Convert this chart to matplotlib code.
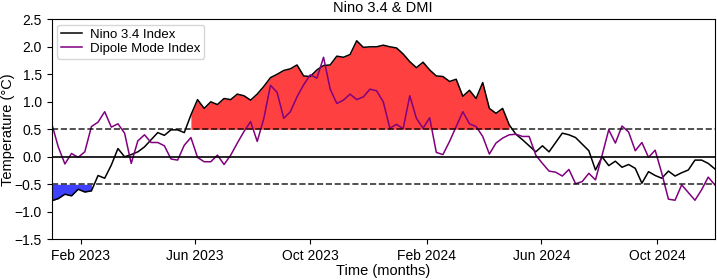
import pandas as pd
import numpy as np
import matplotlib
matplotlib.use('Agg')
import matplotlib.pyplot as plt
import matplotlib.dates as mdates

plt.rcParams['font.family'] = ['Liberation Sans', 'DejaVu Sans']

# Weekly series, Jan 2023 - Dec 2024
dates = pd.date_range('2023-01-01', periods=101, freq='7D')

nino34 = [-0.80, -0.76, -0.68, -0.71, -0.59, -0.64, -0.62, -0.34, -0.39, -0.15,
          0.15, 0.00, 0.04, 0.09, 0.18, 0.31, 0.44, 0.39, 0.49, 0.49,
          0.44, 0.76, 1.04, 0.88, 1.00, 0.95, 1.06, 1.04, 1.14, 1.11,
          1.03, 1.14, 1.28, 1.44, 1.50, 1.57, 1.60, 1.67, 1.47, 1.46,
          1.58, 1.66, 1.67, 1.83, 1.81, 1.86, 2.11, 1.99, 2.00, 2.00,
          2.03, 2.00, 1.98, 1.87, 1.73, 1.62, 1.72, 1.58, 1.47, 1.46,
          1.37, 1.41, 1.10, 1.21, 1.06, 1.35, 0.88, 0.79, 0.88, 0.58,
          0.41, 0.31, 0.20, 0.09, 0.20, 0.09, 0.26, 0.43, 0.40, 0.35,
          0.23, 0.11, -0.24, 0.00, -0.16, -0.08, -0.19, -0.14, -0.21, -0.48,
          -0.27, -0.34, -0.39, -0.26, -0.35, -0.29, -0.24, -0.06, -0.06, -0.12,
          -0.22]

dmi = [0.61, 0.18, -0.13, 0.06, -0.01, 0.09, 0.55, 0.63, 0.82, 0.54,
       0.60, 0.43, -0.12, 0.29, 0.40, 0.26, 0.26, 0.20, -0.04, -0.06,
       0.21, 0.35, -0.01, -0.09, -0.09, 0.03, -0.14, 0.03, 0.25, 0.46,
       0.64, 0.28, 0.70, 1.30, 1.17, 0.70, 0.82, 1.09, 1.31, 1.49,
       1.43, 1.81, 1.23, 0.97, 1.03, 1.14, 1.04, 1.09, 1.23, 1.20,
       1.00, 0.52, 0.59, 0.51, 1.11, 0.70, 0.52, 0.71, 0.08, 0.04,
       0.28, 0.55, 0.82, 0.60, 0.55, 0.37, 0.05, 0.25, 0.34, 0.40,
       0.41, 0.37, 0.37, 0.03, -0.12, -0.26, -0.28, -0.35, -0.23, -0.49,
       -0.45, -0.30, -0.42, 0.03, 0.49, 0.25, 0.56, 0.45, 0.11, 0.26,
       -0.01, 0.12, -0.30, -0.77, -0.79, -0.51, -0.65, -0.79, -0.60, -0.37,
       -0.51]

nino34 = np.array(nino34)
dmi = np.array(dmi)

fig = plt.figure(figsize=(7.17, 2.8), dpi=100)
ax = fig.add_axes([0.072, 0.1454, 0.925, 0.7856])

ax.plot(dates, nino34, color='black', lw=1.1, label='Nino 3.4 Index')
ax.plot(dates, dmi, color='purple', lw=1.1, label='Dipole Mode Index')

ax.fill_between(dates, 0.5, nino34, where=nino34 >= 0.5, color='red', alpha=0.75, lw=0)
ax.fill_between(dates, -0.5, nino34, where=nino34 <= -0.5, color='blue', alpha=0.75, lw=0)

ax.axhline(0, color='black', lw=1.2)
ax.axhline(0.5, color='black', ls='--', lw=1.2, alpha=0.8)
ax.axhline(-0.5, color='black', ls='--', lw=1.2, alpha=0.8)

ax.set_xlim(dates[0], dates[-1])
ax.set_ylim(-1.5, 2.5)
ax.set_yticks(np.arange(-1.5, 2.51, 0.5))
ax.xaxis.set_major_locator(mdates.MonthLocator(bymonth=[2, 6, 10]))
ax.xaxis.set_major_formatter(mdates.DateFormatter('%b %Y'))

ax.set_title('Nino 3.4 & DMI', fontsize=10.5, pad=5)
ax.set_xlabel('Time (months)', fontsize=10.5, labelpad=1)
ax.set_ylabel('Temperature (°C)', fontsize=10.5, labelpad=0)
ax.tick_params(labelsize=10)
ax.legend(loc='upper left', fontsize=9.5, borderaxespad=0.4, handlelength=1.6,
          labelspacing=0.15, borderpad=0.3, handletextpad=0.6)

fig.savefig('out.png', dpi=100)
